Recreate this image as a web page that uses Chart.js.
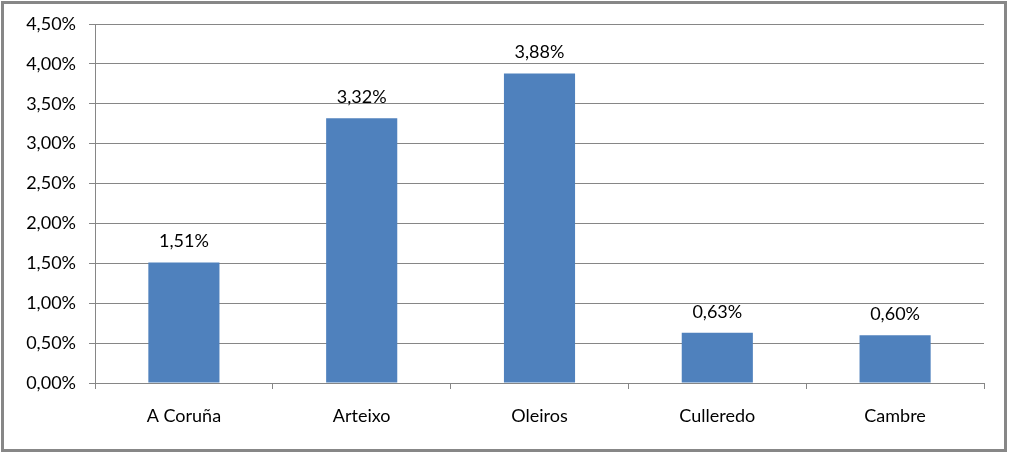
<!DOCTYPE html>
<html>
<head>
<meta charset="utf-8">
<script src="https://cdn.jsdelivr.net/npm/chart.js@4/dist/chart.umd.min.js"></script>
<style>
  html, body { margin: 0; padding: 0; background: #fff; }
  #wrap { position: absolute; left: 0; top: 0; width: 1009px; height: 453px; }
</style>
</head>
<body>
<div id="wrap"><canvas id="chart" width="1009" height="453"></canvas></div>
<script>
// data
const municipios = ["A Coruña", "Arteixo", "Oleiros", "Culleredo", "Cambre"];
const porcentaxes = [1.51, 3.32, 3.88, 0.63, 0.60];
const yMax = 4.5;
const yStep = 0.5;

const fmt = v => v.toFixed(2).replace(".", ",") + "%";

// outer frame like the spreadsheet chart
const framePlugin = {
  id: "frame",
  afterDraw(chart) {
    const ctx = chart.ctx;
    ctx.save();
    ctx.strokeStyle = "#878787";
    ctx.lineWidth = 3;
    ctx.strokeRect(2.5, 2.5, 1003, 448);
    ctx.restore();
  }
};

// value labels above the bars
const valueLabels = {
  id: "valueLabels",
  afterDatasetsDraw(chart) {
    const ctx = chart.ctx;
    const meta = chart.getDatasetMeta(0);
    ctx.save();
    ctx.font = "18px Lato";
    ctx.fillStyle = "#000";
    ctx.textAlign = "center";
    ctx.textBaseline = "middle";
    meta.data.forEach((bar, i) => {
      ctx.fillText(fmt(porcentaxes[i]), bar.x, bar.y - 21);
    });
    ctx.restore();
  }
};

new Chart(document.getElementById("chart"), {
  type: "bar",
  data: {
    labels: municipios,
    datasets: [{
      data: porcentaxes,
      backgroundColor: "#4F81BD",
      borderWidth: 0,
      barPercentage: 0.4,
      categoryPercentage: 1
    }]
  },
  options: {
    responsive: false,
    animation: false,
    layout: { padding: { left: 0, top: 24, right: 25, bottom: 0 } },
    plugins: { legend: { display: false }, tooltip: { enabled: false } },
    scales: {
      x: {
        afterFit: s => { s.height = 70; },
        grid: { drawOnChartArea: false, drawTicks: true, tickLength: 6, color: "#868686", offset: true },
        border: { color: "#868686" },
        ticks: { color: "#000", font: { family: "Lato", size: 18 }, padding: 16 }
      },
      y: {
        min: 0,
        max: yMax,
        afterFit: s => { s.width = 95; },
        grid: { color: "#868686", tickLength: 6 },
        border: { color: "#868686" },
        ticks: {
          stepSize: yStep,
          color: "#000",
          font: { family: "Lato", size: 18 },
          padding: 13,
          callback: v => fmt(v)
        }
      }
    }
  },
  plugins: [framePlugin, valueLabels]
});
</script>
</body>
</html>
